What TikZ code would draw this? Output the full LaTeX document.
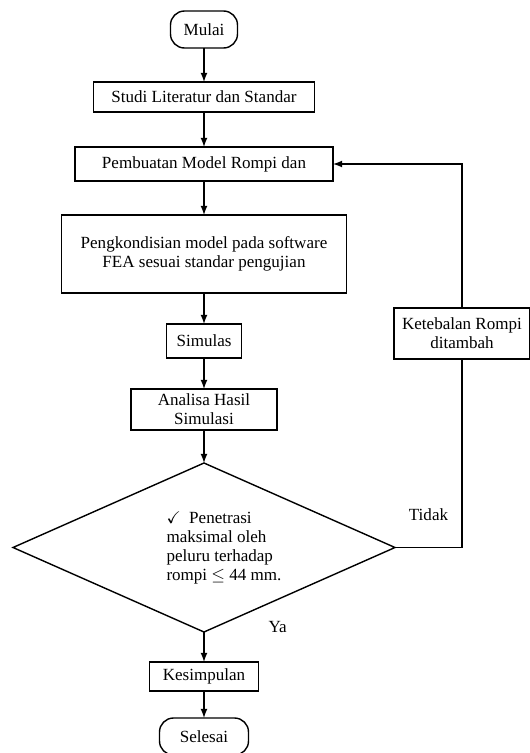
\documentclass[tikz,border=0pt]{standalone}
\usepackage{amssymb}
\usepackage{fontspec}
\setmainfont{Liberation Serif}
\usetikzlibrary{arrows,shapes,positioning}

\begin{document}
\begin{tikzpicture}[thick,->,>=latex,node distance=0.65cm,
    font=\fontsize{9.7}{10.8}\selectfont]
    \tikzstyle{terminal}=[rectangle, rounded corners=0.28cm, draw, outer sep=0pt, minimum width=1.34cm, minimum height=0.74cm]
    \tikzstyle{process}=[rectangle, draw, align=center, outer sep=0pt, inner ysep=1pt]
    \tikzstyle{decision}=[diamond, draw, outer sep=0pt, minimum width=7.64cm, minimum height=3.38cm, inner sep=0pt]

    \useasboundingbox (0,0) rectangle (10.6,-15.06);

    \node[terminal]  (mulai) at (4.08,-0.59) {Mulai};
    \node[process, minimum width=4.42cm, minimum height=0.6cm] (studi) [below=0.68cm of mulai] {Studi Literatur dan Standar};
    \node[process, minimum width=5.16cm, minimum height=0.68cm] (model) [below=0.7cm of studi] {Pembuatan Model Rompi dan};
    \node[process, minimum width=5.7cm, minimum height=1.56cm] (fea) [below=0.68cm of model] {Pengkondisian model pada software\\FEA sesuai standar pengujian};
    \node[process, minimum width=1.5cm, minimum height=0.68cm] (simulasi) [below=0.62cm of fea] {Simulas};
    \node[process, minimum width=2.92cm, minimum height=0.82cm] (analisa) [below=0.62cm of simulasi] {Analisa Hasil\\Simulasi};
    \node[decision, label={[xshift=0.4cm, align=left]center:$\checkmark$\enspace Penetrasi\\maksimal oleh\\peluru terhadap\\rompi $\leq$ 44 mm.}] (cek) [below=0.66cm of analisa] {};
    \node[process, minimum width=2.18cm, minimum height=0.58cm] (kesimpulan) [below=0.6cm of cek] {Kesimpulan};
    \node[terminal, minimum width=1.78cm] (selesai) [below=0.54cm of kesimpulan] {Selesai};

    \node[process, minimum width=2.72cm, minimum height=1.02cm] (tebal) at (9.24,-6.67) {Ketebalan Rompi\\ditambah};
    \node (ya) [right=1.16cm of cek.south, yshift=0.1cm] {Ya};

    \path (mulai) edge (studi);
    \path (studi) edge (model);
    \path (model) edge (fea);
    \path (fea) edge (simulasi);
    \path (simulasi) edge (analisa);
    \path (analisa) edge (cek);
    \path (cek) edge (kesimpulan);
    \path (kesimpulan) edge (selesai);

    \draw[-] (cek.east) -- node[above=0.4cm] {Tidak} (cek.east -| tebal.south) -- (tebal.south);
    \draw (tebal.north) |- (model.east);

  \end{tikzpicture}
\end{document}
